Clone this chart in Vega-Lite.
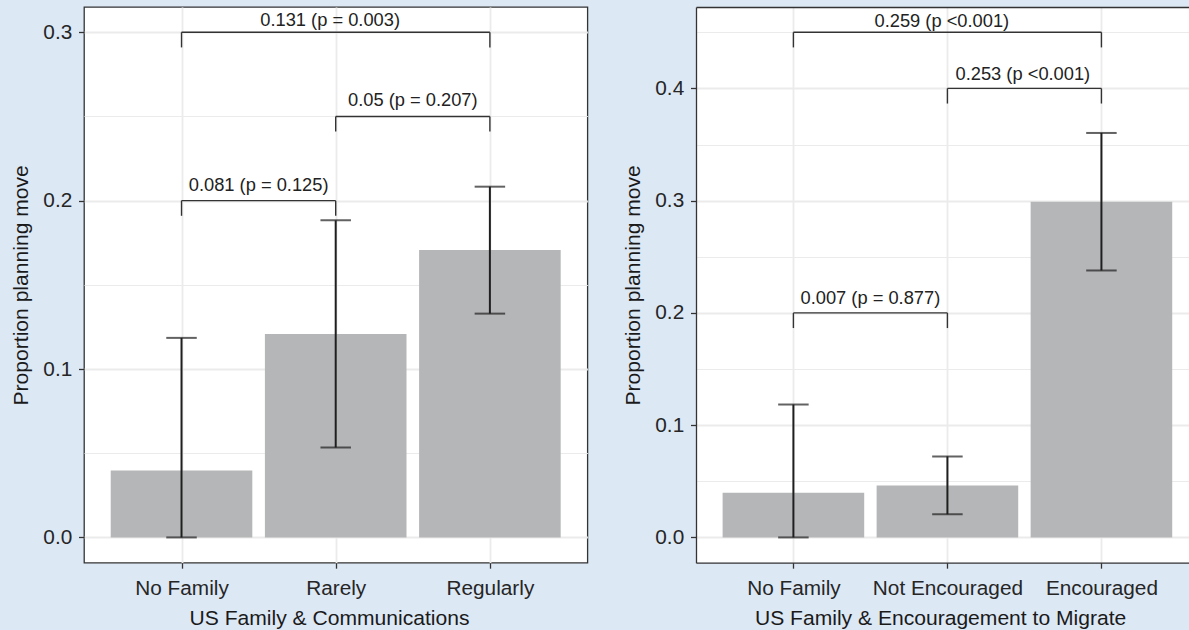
{
  "$schema": "https://vega.github.io/schema/vega-lite/v6.json",
  "background": "#dde8f5",
  "padding": {"left": 10, "top": 6, "right": 0, "bottom": 0},
  "spacing": 33,
  "config": {
    "font": "Liberation Sans",
    "view": {"fill": "white", "stroke": "#333333", "strokeWidth": 1.3},
    "axis": {
      "gridColor": "#ebebeb",
      "tickColor": "#333333",
      "tickWidth": 1.3,
      "tickSize": 5.5,
      "domainColor": "#333333",
      "domainWidth": 1.3,
      "labelFontSize": 20.8,
      "labelColor": "#262626",
      "labelOverlap": false,
      "labelFlush": false,
      "titleFontSize": 21.1,
      "titleFontWeight": "normal",
      "titleColor": "#1a1a1a"
    }
  },
  "datasets": {
    "bars1": [
      {"group": "No Family", "i": 1, "p": 0.0398, "lo": 0.0, "hi": 0.1185},
      {"group": "Rarely", "i": 2, "p": 0.1208, "lo": 0.0534, "hi": 0.1883},
      {"group": "Regularly", "i": 3, "p": 0.1707, "lo": 0.1329, "hi": 0.2083}
    ],
    "br1": [
      {"a": 1, "b": 3, "y": 0.3, "y0": 0.291, "xm": 1.964, "ty": 0.3039, "label": "0.131 (p = 0.003)"},
      {"a": 2, "b": 3, "y": 0.25, "y0": 0.241, "xm": 2.5, "ty": 0.2564, "label": "0.05 (p = 0.207)"},
      {"a": 1, "b": 2, "y": 0.2, "y0": 0.191, "xm": 1.5, "ty": 0.2057, "label": "0.081 (p = 0.125)"}
    ],
    "bars2": [
      {"group": "No Family", "i": 1, "p": 0.0397, "lo": 0.0, "hi": 0.1184},
      {"group": "Not Encouraged", "i": 2, "p": 0.0463, "lo": 0.0206, "hi": 0.0722},
      {"group": "Encouraged", "i": 3, "p": 0.299, "lo": 0.2378, "hi": 0.3603}
    ],
    "br2": [
      {"a": 1, "b": 3, "y": 0.45, "y0": 0.4365, "xm": 1.964, "ty": 0.4549, "label": "0.259 (p <0.001)"},
      {"a": 2, "b": 3, "y": 0.4, "y0": 0.3865, "xm": 2.49, "ty": 0.4075, "label": "0.253 (p <0.001)"},
      {"a": 1, "b": 2, "y": 0.2, "y0": 0.1865, "xm": 1.5, "ty": 0.208, "label": "0.007 (p = 0.877)"}
    ]
  },
  "hconcat": [
    {
      "width": 503.4,
      "height": 555.7,
      "layer": [
        {
          "data": {"name": "bars1"},
          "mark": {"type": "bar", "width": 141.6, "color": "#b5b6b8", "orient": "vertical"},
          "encoding": {
            "x": {
              "field": "i", "type": "quantitative", "title": "US Family & Communications",
              "scale": {"domain": [0.4, 3.6], "nice": false, "zero": false},
              "axis": {
                "values": [1, 2, 3],
                "labelExpr": "datum.value == 1 ? 'No Family' : datum.value == 2 ? 'Rarely' : 'Regularly'",
                "grid": true, "gridWidth": 1.8, "domain": false,
                "labelBaseline": "alphabetic", "labelPadding": 26.1, "labelAngle": 0,
                "titleX": 245, "titleY": 61.6, "titleBaseline": "alphabetic", "titleAlign": "center"
              }
            },
            "y": {
              "field": "p", "type": "quantitative", "title": "Proportion planning move", "stack": null,
              "scale": {"domain": [-0.015, 0.315], "nice": false, "zero": false},
              "axis": {
                "values": [0, 0.05, 0.1, 0.15, 0.2, 0.25, 0.3],
                "labelExpr": "round(datum.value*100) % 10 == 0 ? format(datum.value, '.1f') : ''",
                "grid": true,
                "gridWidth": {"condition": {"test": "round(datum.value*100) % 10 == 0", "value": 1.8}, "value": 1.0},
                "tickOpacity": {"condition": {"test": "round(datum.value*100) % 10 == 0", "value": 1}, "value": 0},
                "domain": false, "labelPadding": 6.8,
                "titleX": -56.3, "titleBaseline": "alphabetic"
              }
            }
          }
        },
        {
          "data": {"name": "bars1"},
          "mark": {"type": "rule", "color": "#1f1f1f", "strokeWidth": 2},
          "encoding": {
            "x": {"field": "i", "type": "quantitative", "title": "US Family & Communications"},
            "y": {"field": "lo", "type": "quantitative", "title": "Proportion planning move"},
            "y2": {"field": "hi"}
          }
        },
        {
          "data": {"name": "bars1"},
          "mark": {"type": "tick", "orient": "horizontal", "size": 30.5, "thickness": 2, "color": "#1f1f1f"},
          "encoding": {
            "x": {"field": "i", "type": "quantitative", "title": "US Family & Communications"},
            "y": {"field": "lo", "type": "quantitative", "title": "Proportion planning move"}
          }
        },
        {
          "data": {"name": "bars1"},
          "mark": {"type": "tick", "orient": "horizontal", "size": 30.5, "thickness": 2, "color": "#1f1f1f"},
          "encoding": {
            "x": {"field": "i", "type": "quantitative", "title": "US Family & Communications"},
            "y": {"field": "hi", "type": "quantitative", "title": "Proportion planning move"}
          }
        },
        {
          "data": {"name": "br1"},
          "mark": {"type": "rule", "color": "#333333", "strokeWidth": 1.4},
          "encoding": {
            "x": {"field": "a", "type": "quantitative", "title": "US Family & Communications"},
            "x2": {"field": "b"},
            "y": {"field": "y", "type": "quantitative", "title": "Proportion planning move"}
          }
        },
        {
          "data": {"name": "br1"},
          "mark": {"type": "rule", "color": "#333333", "strokeWidth": 1.4},
          "encoding": {
            "x": {"field": "a", "type": "quantitative", "title": "US Family & Communications"},
            "y": {"field": "y0", "type": "quantitative", "title": "Proportion planning move"},
            "y2": {"field": "y"}
          }
        },
        {
          "data": {"name": "br1"},
          "mark": {"type": "rule", "color": "#333333", "strokeWidth": 1.4},
          "encoding": {
            "x": {"field": "b", "type": "quantitative", "title": "US Family & Communications"},
            "y": {"field": "y0", "type": "quantitative", "title": "Proportion planning move"},
            "y2": {"field": "y"}
          }
        },
        {
          "data": {"name": "br1"},
          "mark": {"type": "text", "align": "center", "baseline": "alphabetic", "fontSize": 18.3, "color": "#222222"},
          "encoding": {
            "x": {"field": "xm", "type": "quantitative", "title": "US Family & Communications"},
            "y": {"field": "ty", "type": "quantitative", "title": "Proportion planning move"},
            "text": {"field": "label"}
          }
        }
      ]
    },
    {
      "width": 495.3,
      "height": 555.7,
      "view": {"fill": "white", "stroke": null},
      "resolve": {"axis": {"x": "independent"}},
      "layer": [
        {
          "data": {"name": "bars2"},
          "mark": {"type": "bar", "width": 141.6, "color": "#b5b6b8", "orient": "vertical"},
          "encoding": {
            "x": {
              "field": "i", "type": "quantitative", "title": "US Family & Encouragement to Migrate",
              "scale": {"domain": [0.4, 3.551], "nice": false, "zero": false},
              "axis": {
                "values": [1, 2, 3],
                "labelExpr": "datum.value == 1 ? 'No Family' : datum.value == 2 ? 'Not Encouraged' : 'Encouraged'",
                "grid": true, "gridWidth": 1.8, "domain": true,
                "labelBaseline": "alphabetic", "labelPadding": 26.1, "labelAngle": 0,
                "titleX": 244.1, "titleY": 61.6, "titleBaseline": "alphabetic", "titleAlign": "center"
              }
            },
            "y": {
              "field": "p", "type": "quantitative", "title": "Proportion planning move", "stack": null,
              "scale": {"domain": [-0.0225, 0.4725], "nice": false, "zero": false},
              "axis": {
                "values": [0, 0.05, 0.1, 0.15, 0.2, 0.25, 0.3, 0.35, 0.4, 0.45],
                "labelExpr": "round(datum.value*100) % 10 == 0 ? format(datum.value, '.1f') : ''",
                "grid": true,
                "gridWidth": {"condition": {"test": "round(datum.value*100) % 10 == 0", "value": 1.8}, "value": 1.0},
                "tickOpacity": {"condition": {"test": "round(datum.value*100) % 10 == 0", "value": 1}, "value": 0},
                "domain": true, "labelPadding": 6.8,
                "titleX": -56.4, "titleBaseline": "alphabetic"
              }
            }
          }
        },
        {
          "data": {"name": "bars2"},
          "mark": {"type": "rule", "color": "#1f1f1f", "strokeWidth": 2},
          "encoding": {
            "x": {"field": "i", "type": "quantitative", "axis": null},
            "y": {"field": "lo", "type": "quantitative", "title": "Proportion planning move"},
            "y2": {"field": "hi"}
          }
        },
        {
          "data": {"name": "bars2"},
          "mark": {"type": "tick", "orient": "horizontal", "size": 30.5, "thickness": 2, "color": "#1f1f1f"},
          "encoding": {
            "x": {"field": "i", "type": "quantitative", "axis": null},
            "y": {"field": "lo", "type": "quantitative", "title": "Proportion planning move"}
          }
        },
        {
          "data": {"name": "bars2"},
          "mark": {"type": "tick", "orient": "horizontal", "size": 30.5, "thickness": 2, "color": "#1f1f1f"},
          "encoding": {
            "x": {"field": "i", "type": "quantitative", "axis": null},
            "y": {"field": "hi", "type": "quantitative", "title": "Proportion planning move"}
          }
        },
        {
          "data": {"name": "br2"},
          "mark": {"type": "rule", "color": "#333333", "strokeWidth": 1.4},
          "encoding": {
            "x": {
              "field": "a", "type": "quantitative",
              "axis": {"orient": "top", "domain": true, "labels": false, "ticks": false, "grid": false, "title": null}
            },
            "x2": {"field": "b"},
            "y": {"field": "y", "type": "quantitative", "title": "Proportion planning move"}
          }
        },
        {
          "data": {"name": "br2"},
          "mark": {"type": "rule", "color": "#333333", "strokeWidth": 1.4},
          "encoding": {
            "x": {"field": "a", "type": "quantitative", "axis": null},
            "y": {"field": "y0", "type": "quantitative", "title": "Proportion planning move"},
            "y2": {"field": "y"}
          }
        },
        {
          "data": {"name": "br2"},
          "mark": {"type": "rule", "color": "#333333", "strokeWidth": 1.4},
          "encoding": {
            "x": {"field": "b", "type": "quantitative", "axis": null},
            "y": {"field": "y0", "type": "quantitative", "title": "Proportion planning move"},
            "y2": {"field": "y"}
          }
        },
        {
          "data": {"name": "br2"},
          "mark": {"type": "text", "align": "center", "baseline": "alphabetic", "fontSize": 18.3, "color": "#222222"},
          "encoding": {
            "x": {"field": "xm", "type": "quantitative", "axis": null},
            "y": {"field": "ty", "type": "quantitative", "title": "Proportion planning move"},
            "text": {"field": "label"}
          }
        }
      ]
    }
  ]
}
